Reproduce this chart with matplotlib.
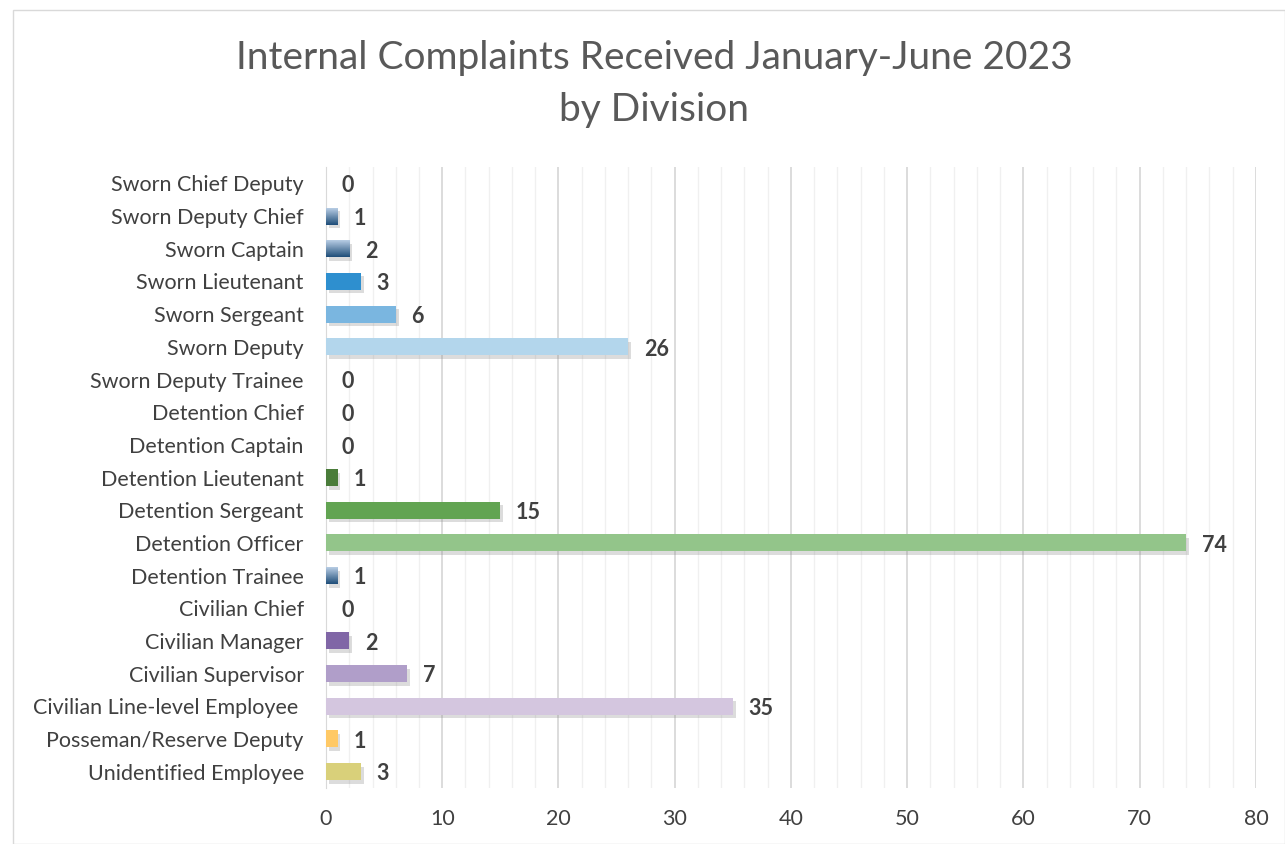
import matplotlib.pyplot as plt
import matplotlib.patheffects as pe
import numpy as np

categories = ["Sworn Chief Deputy", "Sworn Deputy Chief", "Sworn Captain", "Sworn Lieutenant",
              "Sworn Sergeant", "Sworn Deputy", "Sworn Deputy Trainee", "Detention Chief",
              "Detention Captain", "Detention Lieutenant", "Detention Sergeant", "Detention Officer",
              "Detention Trainee", "Civilian Chief", "Civilian Manager", "Civilian Supervisor",
              "Civilian Line-level Employee ", "Posseman/Reserve Deputy", "Unidentified Employee"]
values = [0, 1, 2, 3, 6, 26, 0, 0, 0, 1, 15, 74, 1, 0, 2, 7, 35, 1, 3]
colors = ["#a9c1dc", "grad", "grad", "#2e8fcf", "#7ab6e0", "#b3d6ec", "#a9c1dc", "#a9c1dc",
          "#a9c1dc", "#4a7c3a", "#62a452", "#93c58a", "grad", "#8066a6", "#8066a6", "#b09ec9",
          "#d4c6df", "#ffc966", "#d9d07a"]

plt.rcParams['font.family'] = ['Lato', 'DejaVu Sans']

fig = plt.figure(figsize=(12.85, 8.44), dpi=100)
ax = fig.add_axes([0.2537, 0.0664, 0.7237, 0.7356])

y = np.arange(len(categories))
shadow = [pe.SimplePatchShadow(offset=(2, -2.5), shadow_rgbFace="#8c8c8c", alpha=0.3), pe.Normal()]
bars = ax.barh(y, values, height=0.52,
               color=[c if c != "grad" else "none" for c in colors], zorder=3)
cmap = plt.matplotlib.colors.LinearSegmentedColormap.from_list("g", ["#b7cce4", "#1f4e79"])
for b, c in zip(bars, colors):
    if b.get_width() > 0:
        b.set_path_effects(shadow)
    if c == "grad" and b.get_width() > 0:
        x0, y0 = b.get_x(), b.get_y()
        grad = np.linspace(0, 1, 50).reshape(-1, 1)
        ax.imshow(grad, extent=[x0, x0 + b.get_width(), y0 + b.get_height(), y0],
                  cmap=cmap, aspect="auto", zorder=4, origin="upper")

for v, yy in zip(values, y):
    ax.text(v + 1.35, yy + 0.07, str(v), va="center", ha="left", fontsize=15.5,
            fontweight="bold", color="#404040")

ax.set_xlim(0, 80)
ax.set_ylim(len(categories) - 0.5, -0.5)
ax.set_yticks(y)
ax.set_yticklabels(categories, fontsize=15.5, color="#404040")
ax.set_xticks(np.arange(0, 81, 10))
ax.set_xticks(np.arange(0, 81, 2), minor=True)
ax.tick_params(axis="x", labelsize=15.5, labelcolor="#404040", length=0, which="both", pad=15)
ax.tick_params(axis="y", length=0, pad=16)
ax.grid(axis="x", which="major", color="#d9d9d9", lw=1.3, zorder=0)
ax.grid(axis="x", which="minor", color="#f0f0f0", lw=1.0, zorder=0)
for s in ["top", "right", "bottom"]:
    ax.spines[s].set_visible(False)
ax.spines["left"].set_color("#d9d9d9")
ax.set_axisbelow(True)

fig.text(0.509, 0.9005, "Internal Complaints Received January-June 2023\nby Division",
         ha="center", va="center", fontsize=28, color="#595959", linespacing=1.57)

fig.patches.append(plt.Rectangle((0.01, 0.0), 0.99, 0.988, transform=fig.transFigure,
                                 fill=False, edgecolor="#d9d9d9", lw=1))

fig.savefig("out.png", dpi=100)
